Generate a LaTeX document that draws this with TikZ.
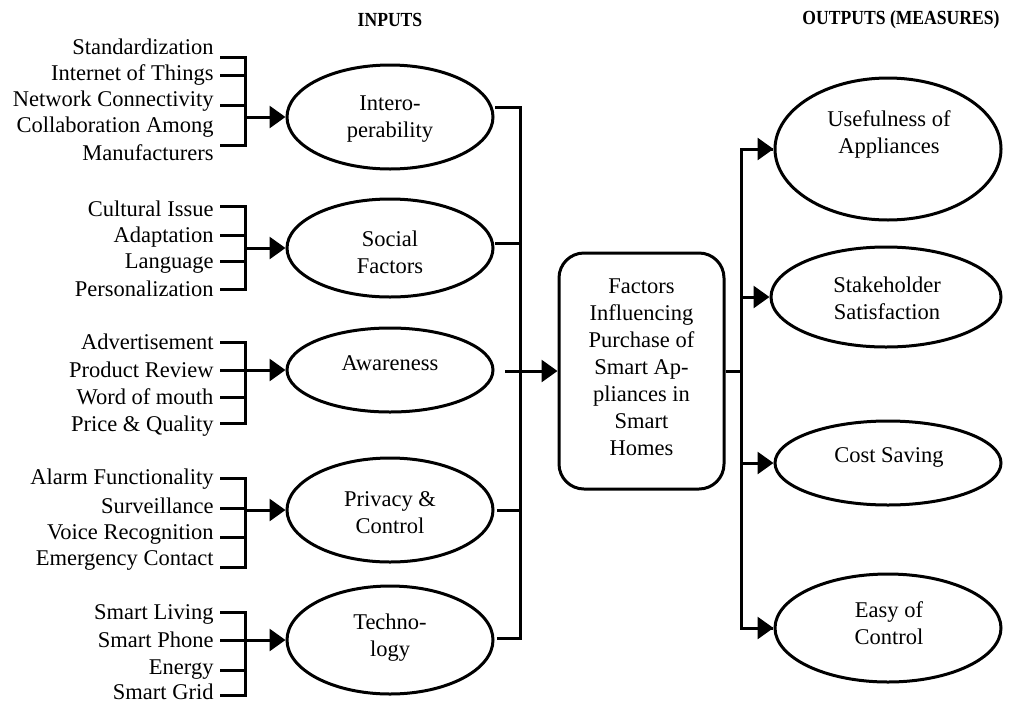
\documentclass[tikz,border=0pt]{standalone}
\usepackage{fontspec}
\setmainfont{Liberation Serif}
\usetikzlibrary{arrows.meta,shapes.geometric}
\begin{document}
\begin{tikzpicture}[x=1pt,y=-1pt,line width=3pt,line join=miter,
  lbl/.style={anchor=east,inner sep=0pt,text height=16pt,text depth=5pt,font=\fontsize{22.5}{27}\selectfont},
  txt/.style={align=center,inner sep=0pt,font=\fontsize{22.5}{27}\selectfont},
  oval/.style={draw,ellipse,inner sep=0pt},
  hdr/.style={inner sep=0pt,font=\bfseries\fontsize{20}{22}\selectfont},
  arr/.style={-{Triangle[length=16pt,width=22pt]}},
  brk/.style={line cap=butt}]
\useasboundingbox (0,0) rectangle (1009,705);

% headers
\node[hdr] (hin) at (390,20) {\scalebox{0.88}[1]{INPUTS}};
\node[hdr] (hout) at (901,20) {\scalebox{0.88}[1]{OUTPUTS (MEASURES)}};

% input ellipses
\node[oval,minimum width=206pt,minimum height=104pt] (e1) at (390,117) {};
\node[oval,minimum width=206pt,minimum height=98pt] (e2) at (390,248) {};
\node[oval,minimum width=206pt,minimum height=84pt] (e3) at (390,370) {};
\node[oval,minimum width=206pt,minimum height=104pt] (e4) at (390,510) {};
\node[oval,minimum width=206pt,minimum height=108pt] (e5) at (390,640) {};
\node[txt] (t1) at (390,119) {Intero-\\perability};
\node[txt] (t2) at (390,252) {Social\\Factors};
\node[txt] (t3) at (390,363) {Awareness};
\node[txt] (t4) at (390,513) {Privacy \&\\Control};
\node[txt] (t5) at (390,638) {Techno-\\logy};

% group 1
\node[lbl] (a1) at (215,49) {Standardization};
\node[lbl] (a2) at (215,75) {Internet of Things};
\node[lbl] (a3) at (215,101) {Network Connectivity};
\node[lbl] (a4) at (215,127) {Collaboration Among};
\node[lbl] (a5) at (215,155) {Manufacturers};
\draw[brk] (220,57) -- (245,57) -- (245,145) -- (220,145);
\draw[brk] (220,75) -- (245,75);
\draw[brk] (220,105) -- (245,105);
\draw[arr] (245,117) -- (e1.west);

% group 2
\node[lbl] (b1) at (215,211) {Cultural Issue};
\node[lbl] (b2) at (215,237) {Adaptation};
\node[lbl] (b3) at (215,263) {Language};
\node[lbl] (b4) at (215,291) {Personalization};
\draw[brk] (220,206) -- (245,206) -- (245,289) -- (220,289);
\draw[brk] (220,235) -- (245,235);
\draw[brk] (220,261) -- (245,261);
\draw[arr] (245,248) -- (e2.west);

% group 3
\node[lbl] (c1) at (215,344) {Advertisement};
\node[lbl] (c2) at (215,372) {Product Review};
\node[lbl] (c3) at (215,399) {Word of mouth};
\node[lbl] (c4) at (215,426) {Price \& Quality};
\draw[brk] (220,342) -- (245,342) -- (245,423) -- (220,423);
\draw[brk] (220,370) -- (245,370);
\draw[brk] (220,397) -- (245,397);
\draw[arr] (245,370) -- (e3.west);

% group 4
\node[lbl] (d1) at (215,479) {Alarm Functionality};
\node[lbl] (d2) at (215,508) {Surveillance};
\node[lbl] (d3) at (215,534) {Voice Recognition};
\node[lbl] (d4) at (215,560) {Emergency Contact};
\draw[brk] (220,478) -- (245,478) -- (245,567) -- (220,567);
\draw[brk] (220,508) -- (245,508);
\draw[brk] (220,537) -- (245,537);
\draw[arr] (245,510) -- (e4.west);

% group 5
\node[lbl] (f1) at (215,614) {Smart Living};
\node[lbl] (f2) at (215,642) {Smart Phone};
\node[lbl] (f3) at (215,669) {Energy};
\node[lbl] (f4) at (215,694) {Smart Grid};
\draw[brk] (220,612) -- (245,612) -- (245,695) -- (220,695);
\draw[brk] (220,640) -- (245,640);
\draw[brk] (220,670) -- (245,670);
\draw[arr] (245,640) -- (e5.west);

% central box
\node[draw,rounded corners=25pt,minimum width=165pt,minimum height=236pt,inner sep=0pt] (box) at (641.5,371) {};
\node[txt] (btxt) at (641.5,367) {Factors\\Influencing\\Purchase of\\Smart Ap-\\pliances in\\Smart\\Homes};

% collecting bar
\draw[brk] (495,107) -- (520,107) -- (520,638) -- (497,638);
\draw[brk] (495,243) -- (520,243);
\draw[brk] (497,510) -- (520,510);
\draw[arr] (505,371) -- (box.west);

% output ellipses
\node[oval,minimum width=226pt,minimum height=142pt] (o1) at (888,149) {};
\node[oval,minimum width=230pt,minimum height=100pt] (o2) at (886,297) {};
\node[oval,minimum width=226pt,minimum height=84pt] (o3) at (888,463) {};
\node[oval,minimum width=226pt,minimum height=108pt] (o4) at (888,628) {};
\node[txt] (u1) at (889,134) {Usefulness of\\Appliances};
\node[txt] (u2) at (887,298) {Stakeholder\\Satisfaction};
\node[txt] (u3) at (889,457) {Cost Saving};
\node[txt] (u4) at (889,623) {Easy of\\Control};

% distributing bar
\draw[brk] (box.east) -- (741,371);
\draw[brk] (773,149) -- (741,149) -- (741,628) -- (773,628);
\draw[arr] (741,149) -- (o1.west);
\draw[arr] (741,297) -- (o2.west);
\draw[arr] (741,463) -- (o3.west);
\draw[arr] (741,628) -- (o4.west);
\end{tikzpicture}
\end{document}
